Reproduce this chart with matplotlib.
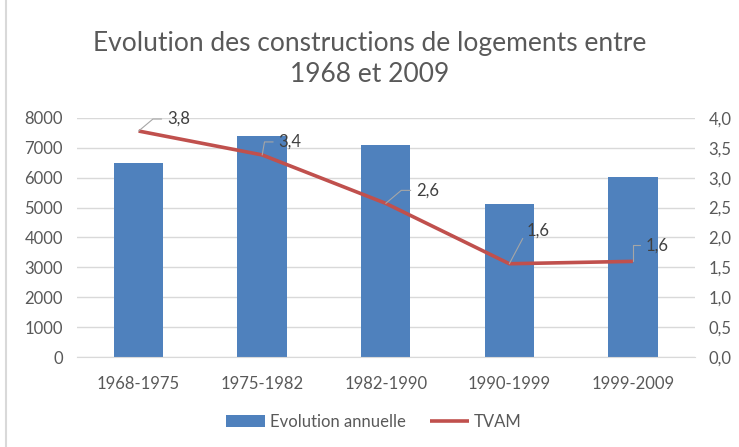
import numpy as np
import matplotlib.pyplot as plt
from matplotlib.ticker import FuncFormatter, MultipleLocator

plt.rcParams['font.family'] = ['Lato', 'DejaVu Sans']

# donnees
periodes = ['1968-1975', '1975-1982', '1982-1990', '1990-1999', '1999-2009']
evolution_annuelle = [6480, 7400, 7100, 5110, 6030]
tvam = [3.78, 3.38, 2.57, 1.56, 1.60]

# decalage des etiquettes (px) et forme des traits de rappel
decalages = [(40, 12), (28, 13), (42, 13), (29, 33), (24, 16)]
traits = ['angle,angleA=0,angleB=40', 'angle,angleA=0,angleB=80',
          'angle,angleA=0,angleB=40', 'arc3,rad=0', 'angle,angleA=0,angleB=90']

gris = '#595959'
bleu = '#4f81bd'
rouge = '#c0504d'

fig = plt.figure(figsize=(7.39, 4.47), dpi=100)
ax = fig.add_axes([0.104, 0.2013, 0.836, 0.535])
ax2 = ax.twinx()

x = np.arange(len(periodes))
barres = ax.bar(x, evolution_annuelle, width=0.4, color=bleu, zorder=2)
ligne, = ax2.plot(x, tvam, color=rouge, lw=2.6, solid_capstyle='butt', zorder=3)

ax.set_xlim(-0.5, len(periodes) - 0.5)
ax.set_ylim(0, 8000)
ax.yaxis.set_major_locator(MultipleLocator(1000))
ax2.set_ylim(0, 4)
ax2.yaxis.set_major_locator(MultipleLocator(0.5))
ax2.yaxis.set_major_formatter(FuncFormatter(lambda v, p: f'{v:.1f}'.replace('.', ',')))

ax.set_xticks(x)
ax.set_xticklabels(periodes)
ax.grid(axis='y', color='#d9d9d9', lw=1, zorder=0)
ax.set_axisbelow(True)

for a in (ax, ax2):
    for s in a.spines.values():
        s.set_visible(False)
    a.tick_params(length=0, colors=gris, labelsize=12)
ax.spines['bottom'].set_visible(True)
ax.spines['bottom'].set_color('#d9d9d9')
ax.tick_params(axis='x', pad=14)
ax.tick_params(axis='y', pad=10)
ax2.tick_params(axis='y', pad=10)

# etiquettes du TVAM avec traits de rappel
for xi, v, (dx, dy), cs in zip(x, tvam, decalages, traits):
    ax2.annotate(f'{v:.1f}'.replace('.', ','), xy=(xi, v),
                 xytext=(dx * 0.72, dy * 0.72), textcoords='offset points',
                 ha='center', va='center', fontsize=12, color='#404040', zorder=4,
                 arrowprops=dict(arrowstyle='-', color='#a6a6a6', lw=0.8,
                                 connectionstyle=cs, relpos=(0, 0.5),
                                 shrinkA=2, shrinkB=0))

fig.suptitle('Evolution des constructions de logements entre\n1968 et 2009',
             y=0.93, fontsize=19, color=gris, linespacing=1.3)

fig.legend([barres, ligne], ['Evolution annuelle', 'TVAM'], loc='center',
           bbox_to_anchor=(0.506, 0.056), ncol=2, frameon=False, fontsize=12,
           labelcolor=gris, handlelength=2.3, columnspacing=1.5, handletextpad=0.3)

# bord gauche du cadre
fig.add_artist(plt.Line2D([0.008, 0.008], [0, 1], color='#d9d9d9', lw=1.5))

plt.savefig('out.png', dpi=100)
